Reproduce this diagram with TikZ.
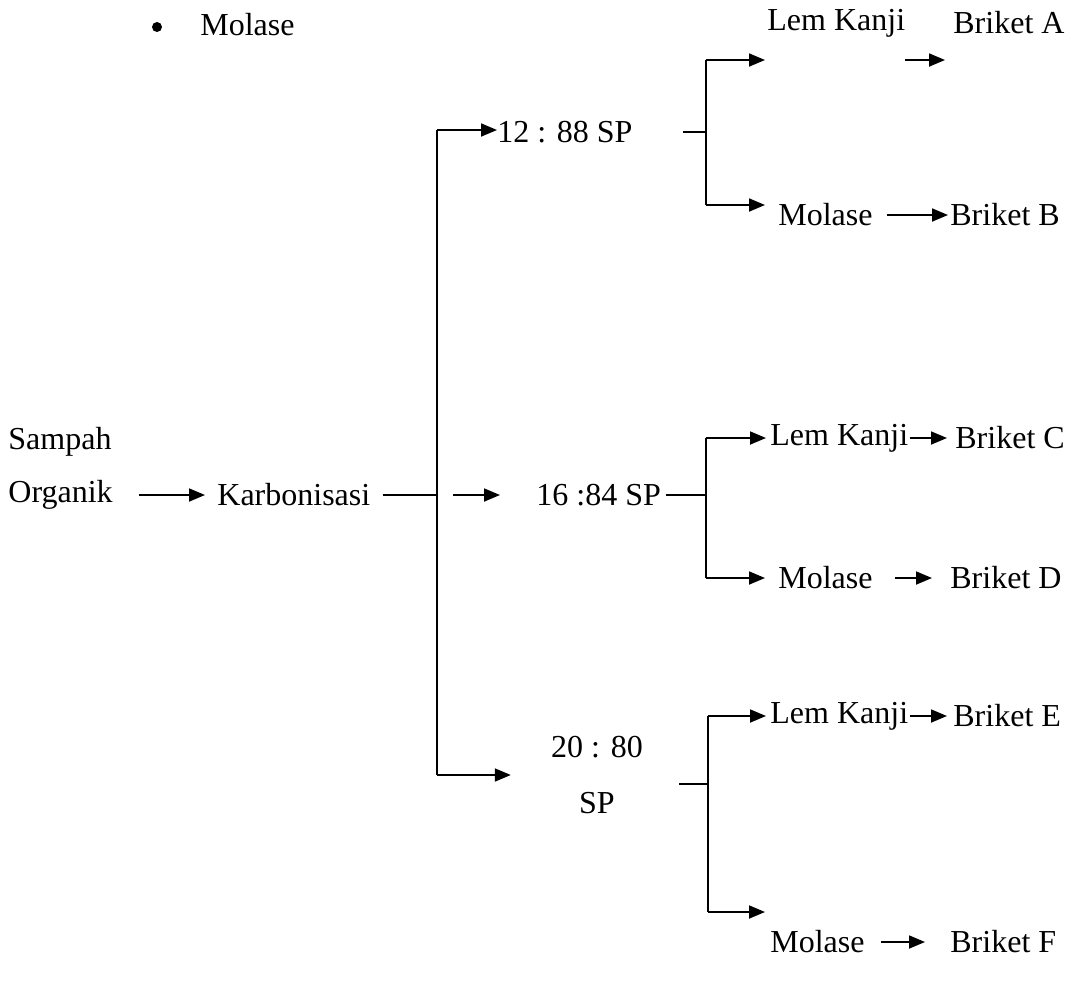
\documentclass[tikz,border=0pt]{standalone}
\usepackage{fontspec}
\setmainfont{Liberation Serif}
\usetikzlibrary{arrows.meta}
\tikzset{
    lbl/.style={inner sep=0pt, anchor=west, font=\fontsize{16}{19}\selectfont},
    arr/.style={-{Triangle[length=8pt,width=6.5pt]}, line width=0.9pt},
    ln/.style={line width=0.9pt}
}
\begin{document}
\begin{tikzpicture}[x=0.5pt, y=-0.5pt]
    \useasboundingbox (0,0) rectangle (1073,987);
    % legend
    \fill (157,27) circle (5);
    \node[lbl] (leg) at (200,25) {Molase};
    % input
    \node[lbl] (samp) at (8,442) {Sampah};
    \node[lbl] (org) at (8,495) {Organik};
    \node[lbl] (karb) at (217,495) {Karbonisasi};
    \draw[arr, shorten <=13pt, shorten >=6pt] (org) -- (karb);
    % trunk
    \coordinate (T1) at (437,130);
    \coordinate (J0) at (437,495);
    \coordinate (T3) at (437,775);
    \draw[ln, shorten <=6pt] (karb) -- (J0);
    \draw[ln] (T1) -- (T3);
    % ratios
    \node[lbl] (r1) at (497,132) {12 : 88 SP};
    \node[lbl] (r2) at (536,495) {16 :84 SP};
    \node[lbl, anchor=center, align=center] (r3) at (597,775) {20 : 80\\[9pt]SP};
    \draw[arr] (T1) -- (r1.west |- T1);
    \draw[arr, shorten <=8pt, shorten >=18pt] (J0) -- (r2);
    \draw[arr, shorten >=20pt] (T3) -- (r3);
    % branch 12 : 88
    \coordinate (B1) at (706,132);
    \coordinate (B1u) at (706,60);
    \coordinate (B1d) at (706,205);
    \coordinate (E1u) at (765,60);
    \coordinate (E1d) at (765,205);
    \draw[ln, shorten <=25pt] (r1) -- (B1);
    \draw[ln] (B1u) -- (B1d);
    \draw[arr] (B1u) -- (E1u);
    \draw[arr] (B1d) -- (E1d);
    \node[lbl] (lk1) at (767,23) {Lem Kanji};
    \node[lbl] (ba) at (953,23) {Briket A};
    \coordinate (A1) at (905,60);
    \coordinate (A2) at (945,60);
    \draw[arr] (A1) -- (A2);
    \node[lbl] (mo1) at (778,215) {Molase};
    \node[lbl] (bb) at (950,215) {Briket B};
    \draw[arr, shorten <=7pt, shorten >=1pt] (mo1) -- (bb);
    % branch 16 : 84
    \coordinate (B2) at (706,495);
    \coordinate (B2u) at (706,438);
    \coordinate (B2d) at (706,578);
    \draw[ln, shorten <=2.5pt] (r2) -- (B2);
    \draw[ln] (B2u) -- (B2d);
    \node[lbl] (lk2) at (770,438) {Lem Kanji};
    \node[lbl] (bc) at (955,438) {Briket C};
    \node[lbl] (mo2) at (778,578) {Molase};
    \node[lbl] (bd) at (950,578) {Briket D};
    \draw[arr, shorten >=2pt] (B2u) -- (lk2);
    \draw[arr, shorten >=6.5pt] (B2d) -- (mo2);
    \draw[arr, shorten <=0.5pt, shorten >=4pt] (lk2) -- (bc);
    \draw[arr, shorten <=11pt, shorten >=9pt] (mo2) -- (bd);
    % branch 20 : 80
    \coordinate (B3) at (708,784);
    \coordinate (B3u) at (708,716);
    \coordinate (B3d) at (708,912);
    \coordinate (E3d) at (765,912);
    \draw[ln, shorten <=18pt] (r3.east |- B3) -- (B3);
    \draw[ln] (B3u) -- (B3d);
    \node[lbl] (lk3) at (770,716) {Lem Kanji};
    \node[lbl] (be) at (953,716) {Briket E};
    \node[lbl] (mo3) at (770,942) {Molase};
    \node[lbl] (bf) at (950,942) {Briket F};
    \draw[arr, shorten >=2pt] (B3u) -- (lk3);
    \draw[arr] (B3d) -- (E3d);
    \draw[arr, shorten <=0.5pt, shorten >=3pt] (lk3) -- (be);
    \draw[arr, shorten <=8pt, shorten >=12.5pt] (mo3) -- (bf);
\end{tikzpicture}
\end{document}
